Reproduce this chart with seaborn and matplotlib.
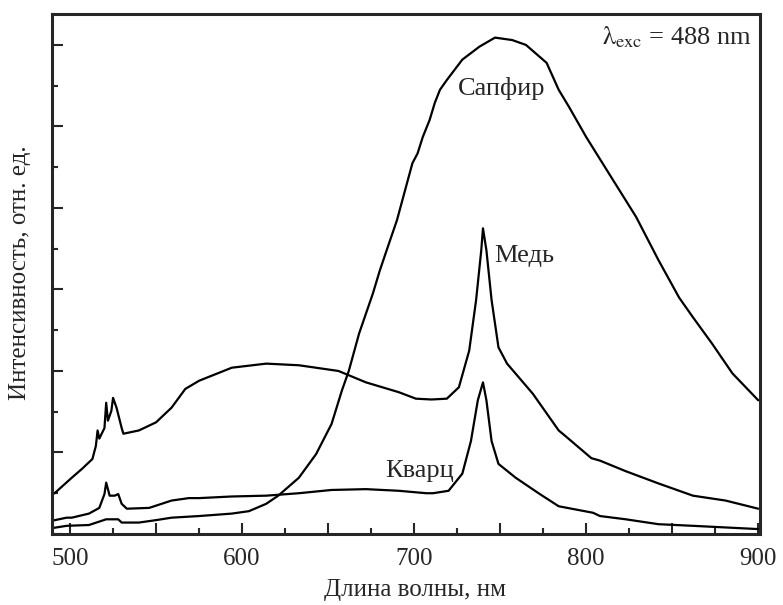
import matplotlib
matplotlib.use("Agg")
import matplotlib.pyplot as plt
import seaborn as sns
import pandas as pd
from matplotlib.ticker import MultipleLocator, NullFormatter

# values (wavelength in nm, intensity in arb. units)
sapphire_wl = [489, 498, 511, 521, 528, 530, 540, 550, 559, 575, 594, 604, 614, 621, 633,
               643, 652, 658, 662, 668, 676, 680, 684, 690, 699, 702, 705, 709, 712, 715,
               719, 728, 738, 747, 757, 765, 777, 784, 790, 800, 813, 829, 842, 854, 862,
               873, 885, 900]
sapphire_int = [0.07, 0.10, 0.11, 0.18, 0.18, 0.14, 0.14, 0.17, 0.20, 0.22, 0.25, 0.28, 0.37,
                0.47, 0.69, 0.98, 1.35, 1.76, 2.00, 2.46, 2.95, 3.23, 3.48, 3.85, 4.55, 4.67,
                4.87, 5.08, 5.29, 5.45, 5.57, 5.82, 5.98, 6.09, 6.06, 6.00, 5.78, 5.45, 5.24,
                4.87, 4.43, 3.89, 3.36, 2.90, 2.66, 2.34, 1.97, 1.64]

copper_wl = [489, 491, 501, 507, 513, 515, 516, 517, 520, 521, 522, 524, 525, 527, 530, 531,
             540, 550, 559, 567, 575, 594, 614, 633, 656, 672, 691, 701, 710, 719, 726, 732,
             736, 739, 740, 742, 745, 749, 754, 769, 784, 788, 803, 808, 823, 842, 862, 881,
             900]
copper_int = [0.48, 0.50, 0.69, 0.80, 0.92, 1.08, 1.27, 1.17, 1.30, 1.61, 1.39, 1.51, 1.67,
              1.55, 1.30, 1.23, 1.27, 1.37, 1.55, 1.78, 1.88, 2.04, 2.09, 2.07, 2.00, 1.86,
              1.74, 1.66, 1.65, 1.66, 1.80, 2.25, 2.87, 3.48, 3.75, 3.48, 2.87, 2.29, 2.09,
              1.72, 1.27, 1.20, 0.93, 0.90, 0.77, 0.62, 0.47, 0.41, 0.31]

quartz_wl = [489, 498, 501, 511, 517, 520, 521, 523, 526, 528, 530, 533, 546, 559, 569, 575,
             594, 614, 633, 652, 672, 691, 707, 711, 720, 728, 733, 737, 740, 742, 745, 749,
             759, 773, 784, 789, 804, 808, 823, 842, 862, 900]
quartz_int = [0.16, 0.20, 0.20, 0.25, 0.32, 0.49, 0.63, 0.47, 0.47, 0.49, 0.37, 0.31, 0.32,
              0.41, 0.44, 0.44, 0.46, 0.47, 0.50, 0.54, 0.55, 0.53, 0.50, 0.50, 0.53, 0.74,
              1.14, 1.64, 1.86, 1.64, 1.14, 0.86, 0.69, 0.49, 0.34, 0.32, 0.26, 0.22, 0.18,
              0.12, 0.10, 0.06]

series_names = ["Сапфир", "Медь", "Кварц"]

frames = []
for name, wl, val in zip(series_names,
                         [sapphire_wl, copper_wl, quartz_wl],
                         [sapphire_int, copper_int, quartz_int]):
    frames.append(pd.DataFrame({"wl": wl, "intensity": val, "sample": name}))
df = pd.concat(frames, ignore_index=True)

sns.set_style("ticks")
plt.rcParams["font.family"] = ["Liberation Serif", "DejaVu Serif"]
plt.rcParams["mathtext.fontset"] = "stix"

fig = plt.figure(figsize=(7.83, 6.05), dpi=100)
ax = fig.add_axes([0.0664, 0.1174, 0.9042, 0.8595])

sns.lineplot(data=df, x="wl", y="intensity", units="sample", estimator=None,
             color="black", linewidth=1.6, sort=False, ax=ax)

ax.set_xlim(489.5, 901)
ax.set_ylim(0, 6.38)
ax.xaxis.set_major_locator(MultipleLocator(50))
ax.xaxis.set_minor_locator(MultipleLocator(25))
ax.xaxis.set_major_formatter(lambda v, p: f"{v:.0f}" if round(v) % 100 == 0 else "")
ax.yaxis.set_major_locator(MultipleLocator(1))
ax.yaxis.set_minor_locator(MultipleLocator(0.5))
ax.yaxis.set_major_formatter(NullFormatter())
ax.tick_params(which="major", direction="in", length=8, width=1.5, labelsize=18,
               top=False, right=False, pad=10)
ax.tick_params(which="minor", direction="in", length=4, width=1.5, top=False, right=False)
for s in ax.spines.values():
    s.set_linewidth(2.2)

ax.set_xlabel("Длина волны, нм", fontsize=18)
ax.set_ylabel("Интенсивность, отн. ед.", fontsize=18)
ax.xaxis.set_label_coords(0.513, -0.108)
ax.yaxis.set_label_coords(-0.045, 0.503)
ax.xaxis.label.set_va("center")
ax.yaxis.label.set_va("center")

ax.text(750.6, 5.47, "Сапфир", fontsize=19, ha="center", va="center")
ax.text(764, 3.41, "Медь", fontsize=19, ha="center", va="center")
ax.text(703, 0.77, "Кварц", fontsize=19, ha="center", va="center")
ax.text(0.989, 0.955, r"$\mathrm{λ}_{\mathrm{exc}}$ = 488 nm", fontsize=19,
        ha="right", va="center", transform=ax.transAxes)

fig.savefig("out.png", dpi=100)
